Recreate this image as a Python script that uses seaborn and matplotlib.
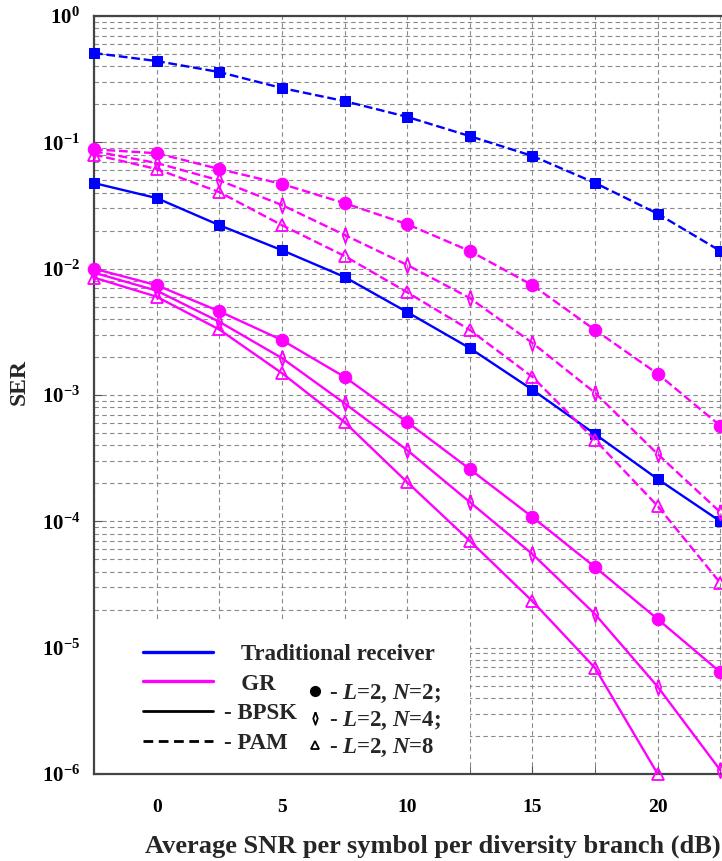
import numpy as np
import pandas as pd
import matplotlib
matplotlib.use("Agg")
import matplotlib.pyplot as plt
import matplotlib.ticker as mticker
from matplotlib.lines import Line2D
from matplotlib.patches import Rectangle
import seaborn as sns

# ---- data -------------------------------------------------------------
snr_db = [-2.5, 0, 2.5, 5, 7.5, 10, 12.5, 15, 17.5, 20, 22.5]

trad_pam = [0.509, 0.44, 0.36, 0.269, 0.212, 0.159, 0.112, 0.078, 0.0477, 0.0272, 0.0138]
trad_bpsk = [0.0476, 0.0362, 0.0221, 0.014, 0.0086, 0.00453, 0.00235, 0.0011, 4.9e-4, 2.16e-4, 1.0e-4]

gr_pam_n2 = [0.088, 0.082, 0.0615, 0.0468, 0.033, 0.0225, 0.0138, 0.0074, 0.00327, 0.00147, 5.7e-4]
gr_pam_n4 = [0.085, 0.0686, 0.050, 0.0319, 0.0185, 0.0107, 0.00585, 0.00258, 0.00104, 3.4e-4, 1.18e-4]
gr_pam_n8 = [0.080, 0.0615, 0.0404, 0.0221, 0.0126, 0.0065, 0.00327, 0.00139, 4.4e-4, 1.32e-4, 3.25e-5]

gr_bpsk_n2 = [0.0100, 0.0074, 0.0046, 0.00272, 0.00139, 6.1e-4, 2.59e-4, 1.08e-4, 4.34e-5, 1.68e-5, 6.4e-6]
gr_bpsk_n4 = [0.0093, 0.0067, 0.0038, 0.00196, 8.6e-4, 3.66e-4, 1.42e-4, 5.5e-5, 1.84e-5, 4.9e-6, 1.07e-6]
gr_bpsk_n8 = [0.0085, 0.0060, 0.0033, 0.00149, 6.1e-4, 2.04e-4, 7.0e-5, 2.33e-5, 6.9e-6, 1.0e-6]

x_tick_values = [0, 5, 10, 15, 20]
y_decades = [0, -1, -2, -3, -4, -5, -6]

legend_lines = ["   Traditional receiver", "   GR", "- BPSK", "- PAM"]
legend_markers = [r"- $L$=2, $N$=2;", r"- $L$=2, $N$=4;", r"- $L$=2, $N$=8"]

# ---- style ------------------------------------------------------------
sns.set_style("ticks")
plt.rcParams["font.family"] = ["Liberation Serif", "DejaVu Serif"]
plt.rcParams["font.weight"] = "bold"
plt.rcParams["mathtext.fontset"] = "custom"
plt.rcParams["mathtext.rm"] = "Liberation Serif:bold"
plt.rcParams["mathtext.it"] = "Liberation Serif:italic:bold"
plt.rcParams["mathtext.bf"] = "Liberation Serif:bold"

BLUE = "#0000FF"
MAGENTA = "#FF00FF"

# narrow upright diamond
THIN_DIAMOND = [(0, 1), (0.36, 0), (0, -1), (-0.36, 0), (0, 1)]

AX_W_PX, AX_H_PX = 689, 758
fig = plt.figure(figsize=(7.22, 8.61), dpi=100)
# the axes run past the right edge of the canvas
ax = fig.add_axes([94 / 722, 87 / 861, AX_W_PX / 722, AX_H_PX / 861])

series = [
    (trad_pam, BLUE, "--", "s", dict(ms=7.5, mfc=BLUE, mec=BLUE)),
    (trad_bpsk, BLUE, "-", "s", dict(ms=7.5, mfc=BLUE, mec=BLUE)),
    (gr_pam_n2, MAGENTA, "--", "o", dict(ms=9, mfc=MAGENTA, mec=MAGENTA)),
    (gr_pam_n4, MAGENTA, "--", THIN_DIAMOND, dict(ms=11, mfc="none", mec=MAGENTA, mew=1.3)),
    (gr_pam_n8, MAGENTA, "--", "^", dict(ms=8, mfc="none", mec=MAGENTA, mew=1.3)),
    (gr_bpsk_n2, MAGENTA, "-", "o", dict(ms=9, mfc=MAGENTA, mec=MAGENTA)),
    (gr_bpsk_n4, MAGENTA, "-", THIN_DIAMOND, dict(ms=11, mfc="none", mec=MAGENTA, mew=1.3)),
    (gr_bpsk_n8, MAGENTA, "-", "^", dict(ms=8, mfc="none", mec=MAGENTA, mew=1.3)),
]

for values, color, ls, mk, mkw in series:
    df = pd.DataFrame({"snr": snr_db[: len(values)], "ser": values})
    line_kw = dict(linestyle=ls, lw=1.7)
    if ls == "--":
        line_kw["dashes"] = (5, 2.5)
    sns.lineplot(data=df, x="snr", y="ser", ax=ax, color=color, marker=mk,
                 clip_on=False, zorder=3, legend=False, **line_kw, **mkw)

ax.set_yscale("log")
ax.set_xlim(-2.5, 25)
ax.set_ylim(1e-6, 1)

# ticks and grid
ax.xaxis.set_major_locator(mticker.FixedLocator(x_tick_values))
ax.xaxis.set_minor_locator(mticker.MultipleLocator(2.5))
ax.set_xticklabels([str(v) for v in x_tick_values])
ax.yaxis.set_major_locator(mticker.FixedLocator([10.0 ** d for d in y_decades]))
ax.yaxis.set_major_formatter(mticker.FuncFormatter(
    lambda v, pos: r"$\mathrm{10^{%d}}$" % int(round(np.log10(v)))))
ax.yaxis.set_minor_locator(mticker.LogLocator(base=10, subs=np.arange(2, 10), numticks=20))
ax.yaxis.set_minor_formatter(mticker.NullFormatter())

ax.tick_params(axis="both", which="both", direction="in", colors="#555555",
               labelcolor="black")
ax.tick_params(axis="x", which="major", length=6, pad=18, labelsize=14)
ax.tick_params(axis="x", which="minor", length=6)
ax.tick_params(axis="y", which="major", length=6, pad=10, labelsize=15)
ax.tick_params(axis="y", which="minor", length=0)

ax.grid(True, which="both", axis="both", color="#8a8a8a", lw=0.8,
        linestyle=(0, (4, 3)))
ax.set_axisbelow(True)

for side in ["left", "bottom", "top"]:
    ax.spines[side].set_color("#444444")
    ax.spines[side].set_linewidth(1.6)
ax.spines["right"].set_visible(False)

ax.set_xlabel("Average SNR per symbol per diversity branch (dB)",
              fontsize=19, fontweight="bold")
ax.xaxis.set_label_coords(433 / 722, 1 - 835 / 861, transform=fig.transFigure)
ax.set_ylabel("SER", fontsize=17, fontweight="bold")
ax.yaxis.set_label_coords(30 / 722, 1 - 382 / 861, transform=fig.transFigure)

# white block behind the legend
ax.add_patch(Rectangle((0, 0), 376 / AX_W_PX, 152 / AX_H_PX, transform=ax.transAxes,
                       facecolor="white", edgecolor="none", zorder=1.8))

legend_font = {"family": "Liberation Serif", "weight": "bold", "size": 16.5}

line_handles = [
    Line2D([], [], color=BLUE, lw=2.4),
    Line2D([], [], color=MAGENTA, lw=2.4),
    Line2D([], [], color="black", lw=2.0),
    Line2D([], [], color="black", lw=2.0, linestyle=(0, (3.5, 2))),
]
leg1 = ax.legend(line_handles, legend_lines, loc="lower left",
                 bbox_to_anchor=(49 / AX_W_PX, 20 / AX_H_PX), frameon=False,
                 borderpad=0, borderaxespad=0,
                 handlelength=3.05, handletextpad=0.5, labelspacing=0.38,
                 prop=legend_font)
ax.add_artist(leg1)

marker_handles = [
    Line2D([], [], color="black", marker="o", ms=7, ls="none"),
    Line2D([], [], color="black", marker=THIN_DIAMOND, ms=9, mfc="none", mew=1.3, ls="none"),
    Line2D([], [], color="black", marker="^", ms=6, mfc="none", mew=1.3, ls="none"),
]
leg2 = ax.legend(marker_handles, legend_markers, loc="lower left",
                 bbox_to_anchor=(212 / AX_W_PX, 15 / AX_H_PX), frameon=False,
                 borderpad=0, borderaxespad=0,
                 handlelength=0.8, handletextpad=0.2, labelspacing=0.22,
                 prop=legend_font)
leg1.set_zorder(5)
leg2.set_zorder(5)

fig.savefig("out.png", dpi=100)
